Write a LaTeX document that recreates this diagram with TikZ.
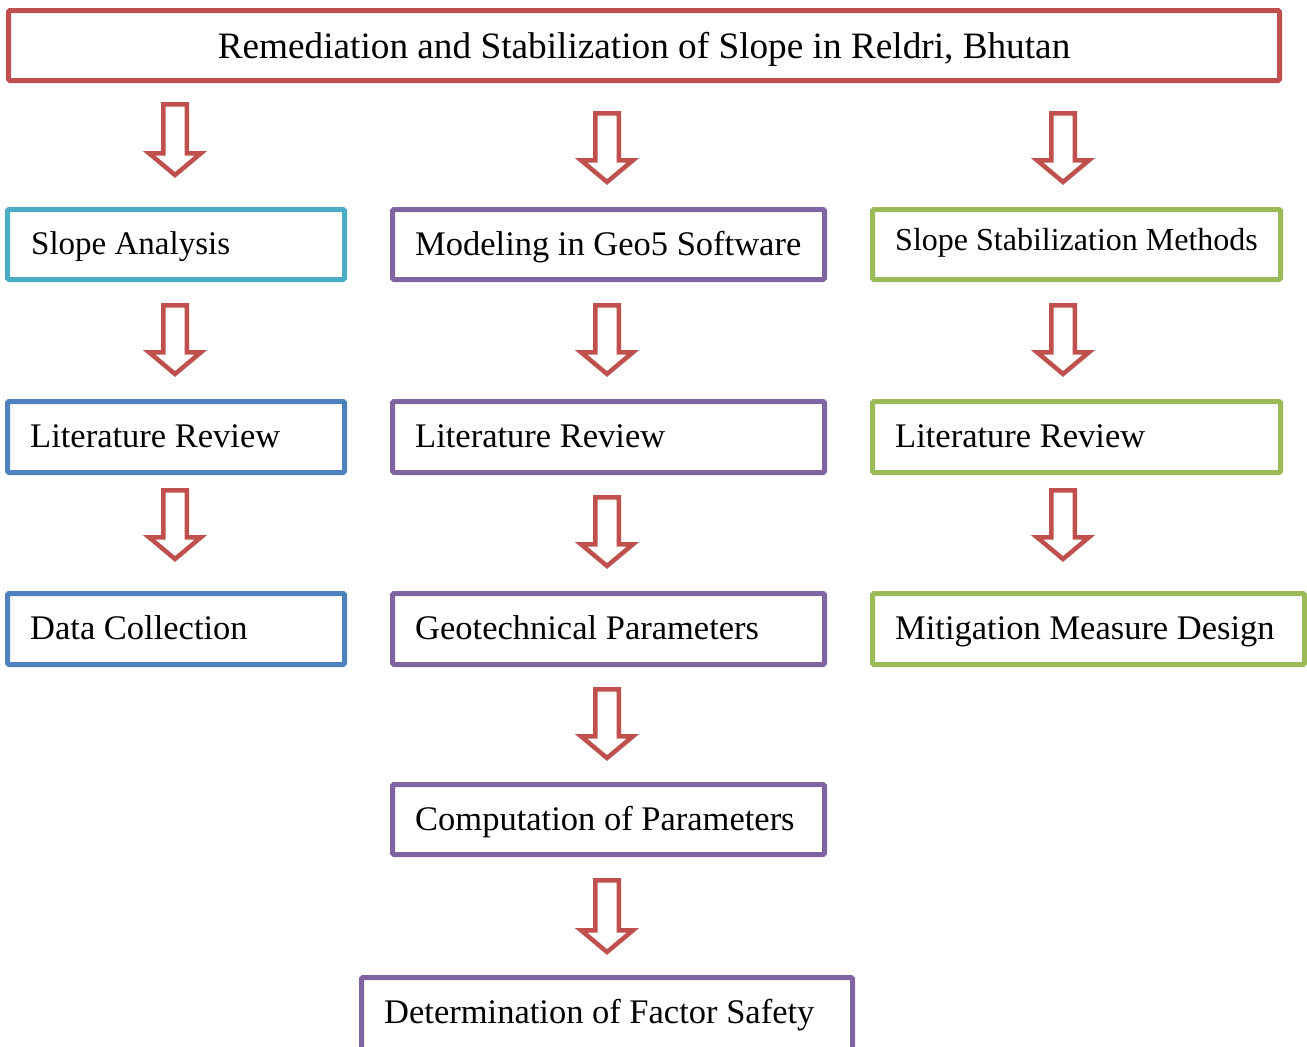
\documentclass[tikz,border=0pt]{standalone}
\usepackage{fontspec}
\setmainfont{Liberation Serif}
\definecolor{cred}{HTML}{C0504D}
\definecolor{ccyan}{HTML}{4BACC6}
\definecolor{cblue}{HTML}{4F81BD}
\definecolor{cpurple}{HTML}{8064A2}
\definecolor{cgreen}{HTML}{9BBB59}
\tikzset{
  boxr/.style={draw=#1, line width=5pt, rounded corners=1.5pt, inner sep=0pt, fill=white},
  lbl/.style={anchor=base west, inner sep=0pt, font=\fontsize{34.5}{40}\selectfont},
  blk/.style={draw=cred, line width=4.5pt, fill=white, line join=miter},
}
% box: name, colour, x1, y1, x2, y2
\newcommand\mybox[6]{%
  \node[boxr=#2, minimum width={(#5)-(#3)}, minimum height={(#6)-(#4)}]
    (#1) at ({((#3)+(#5))/2},{((#4)+(#6))/2}) {};}
% block arrow: name, x, outer top, outer tip
\newcommand\dar[4]{%
  \coordinate (#1) at (#2,#3);
  \draw[blk] ({#2-11.75},{#3+2.25}) -- ({#2+11.75},{#3+2.25})
    -- ({#2+11.75},{#4-24.75}) -- ({#2+26},{#4-24.75})
    -- ({#2},{#4-3}) -- ({#2-26},{#4-24.75})
    -- ({#2-11.75},{#4-24.75}) -- cycle;}
\begin{document}
\begin{tikzpicture}[x=1pt,y=-1pt]
\useasboundingbox (0,0) rectangle (1307,1047);
\begin{scope}
\clip (0,0) rectangle (1307,1047);
% boxes
\mybox{title}{cred}{8.5}{10.5}{1279.5}{80.5}
\mybox{a1}{ccyan}{7.5}{209.5}{344.5}{279.5}
\mybox{a2}{cblue}{7.5}{401.5}{344.5}{472.5}
\mybox{a3}{cblue}{7.5}{593.5}{344.5}{664.5}
\mybox{b1}{cpurple}{392.5}{209.5}{824.5}{279.5}
\mybox{b2}{cpurple}{392.5}{401.5}{824.5}{472.5}
\mybox{b3}{cpurple}{392.5}{593.5}{824.5}{664.5}
\mybox{b4}{cpurple}{392.5}{784.5}{824.5}{854.5}
\mybox{b5}{cpurple}{361.5}{977.5}{852.5}{1062}
\mybox{c1}{cgreen}{872.5}{209.5}{1280.5}{279.5}
\mybox{c2}{cgreen}{872.5}{401.5}{1280.5}{472.5}
\mybox{c3}{cgreen}{872.5}{593.5}{1304.5}{664.5}
\end{scope}
% texts
\node[anchor=base, inner sep=0pt, font=\fontsize{37.25}{42}\selectfont] (tt) at (644,58) {Remediation and Stabilization of Slope in Reldri, Bhutan};
\node[lbl, font=\fontsize{33}{38}\selectfont] (ta1) at (31,254) {Slope Analysis};
\node[lbl] (ta2) at (30,447) {Literature Review};
\node[lbl] (ta3) at (30,639) {Data Collection};
\node[lbl] (tb1) at (415,255) {Modeling in Geo5 Software};
\node[lbl] (tb2) at (415,447) {Literature Review};
\node[lbl] (tb3) at (415,639) {Geotechnical Parameters};
\node[lbl] (tb4) at (415,830) {Computation of Parameters};
\node[lbl] (tb5) at (384,1023) {Determination of Factor Safety};
\node[lbl, font=\fontsize{32}{38}\selectfont] (tc1) at (895,250) {Slope Stabilization Methods};
\node[lbl] (tc2) at (895,447) {Literature Review};
\node[lbl] (tc3) at (895,639) {Mitigation Measure Design};
% arrows
\dar{ra1}{175}{102}{178}
\dar{ra2}{175}{303}{377}
\dar{ra3}{175}{488}{562}
\dar{rb1}{607}{111}{185}
\dar{rb2}{607}{303}{377}
\dar{rb3}{607}{495}{569}
\dar{rb4}{607}{687}{761}
\dar{rb5}{607}{878}{955}
\dar{rc1}{1063}{111}{185}
\dar{rc2}{1063}{303}{377}
\dar{rc3}{1063}{488}{562}
\end{tikzpicture}
\end{document}
